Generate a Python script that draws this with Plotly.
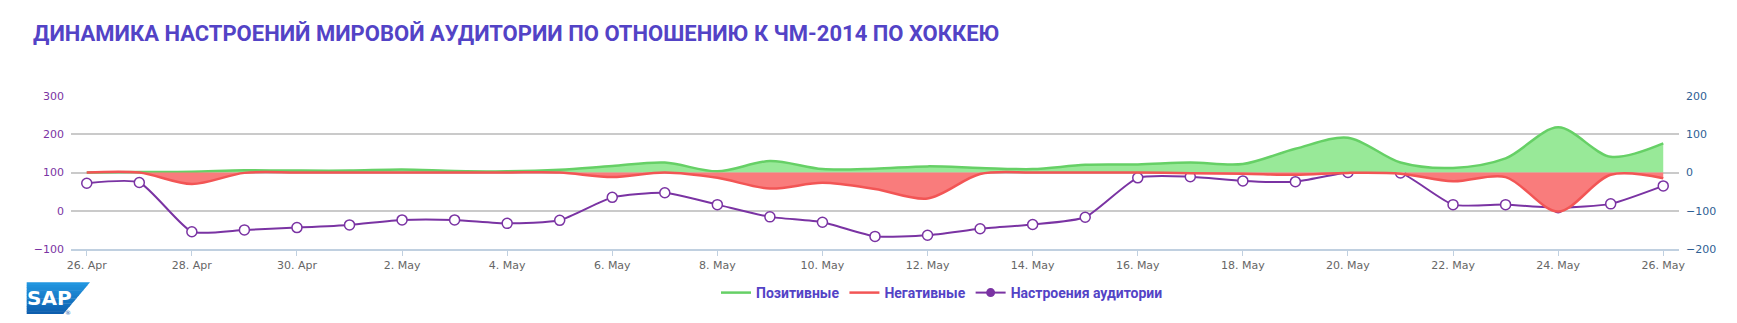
import plotly.graph_objects as go

# ---- data ---------------------------------------------------------------
dates = [
    "2014-04-26", "2014-04-27", "2014-04-28", "2014-04-29", "2014-04-30",
    "2014-05-01", "2014-05-02", "2014-05-03", "2014-05-04", "2014-05-05",
    "2014-05-06", "2014-05-07", "2014-05-08", "2014-05-09", "2014-05-10",
    "2014-05-11", "2014-05-12", "2014-05-13", "2014-05-14", "2014-05-15",
    "2014-05-16", "2014-05-17", "2014-05-18", "2014-05-19", "2014-05-20",
    "2014-05-21", "2014-05-22", "2014-05-23", "2014-05-24", "2014-05-25",
    "2014-05-26",
]

positive = [0, 1, 2, 6, 5, 5, 8, 4, 3, 7,
            17, 26, 3, 30, 9, 10, 16, 12, 9, 20,
            21, 26, 22, 62, 91, 26, 12, 37, 118, 41, 76]

negative = [0, 0, -30, -1, 0, 0, 0, 0, 0, 0,
            -12, 0, -14, -42, -27, -43, -68, -4, 0, 0,
            0, -2, -3, -6, -1, -3, -23, -12, -102, -6, -15]

mood = [72, 74, -55, -50, -44, -37, -24, -24, -33, -25,
        35, 47, 16, -16, -30, -67, -64, -47, -36, -17,
        86, 89, 78, 76, 100, 99, 16, 16, 8, 18, 65]

title_text = "ДИНАМИКА НАСТРОЕНИЙ МИРОВОЙ АУДИТОРИИ ПО ОТНОШЕНИЮ К ЧМ-2014 ПО ХОККЕЮ"
names = ["Позитивные", "Негативные", "Настроения аудитории"]

# ---- styling ------------------------------------------------------------
W, H = 1737, 323
ML, MR, MT, MB = 71, 58, 96, 74
PW, PH = W - ML - MR, H - MT - MB

HEAD_FONT = "Roboto, sans-serif"
TITLE_COLOR = "#5343C6"
PURPLE = "#7A33A3"
GREEN_LINE, GREEN_FILL = "#66D066", "#98E998"
RED_LINE, RED_FILL = "#F25555", "#F97C7C"


def px(x):
    return (x - ML) / PW


def py(y):
    return (H - MB - y) / PH


fig = go.Figure()

fig.add_trace(go.Scatter(
    x=dates, y=positive, name=names[0], yaxis="y2", showlegend=False,
    mode="lines", line=dict(color=GREEN_LINE, width=2.5, shape="spline", smoothing=0.9),
    fill="tozeroy", fillcolor=GREEN_FILL,
))
fig.add_trace(go.Scatter(
    x=dates, y=negative, name=names[1], yaxis="y2", showlegend=False,
    mode="lines", line=dict(color=RED_LINE, width=2.5, shape="spline", smoothing=0.9),
    fill="tozeroy", fillcolor=RED_FILL,
))
fig.add_trace(go.Scatter(
    x=dates, y=mood, name=names[2], yaxis="y", showlegend=False,
    mode="lines+markers", line=dict(color=PURPLE, width=2, shape="spline", smoothing=0.55),
    marker=dict(size=10, color="white", line=dict(color=PURPLE, width=1.5)),
))

# legend entries (plain line symbols, filled marker for the mood series)
fig.add_trace(go.Scatter(x=[None], y=[None], name=names[0], mode="lines",
                         line=dict(color=GREEN_LINE, width=2.5)))
fig.add_trace(go.Scatter(x=[None], y=[None], name=names[1], mode="lines",
                         line=dict(color=RED_LINE, width=2.5)))
fig.add_trace(go.Scatter(x=[None], y=[None], name=names[2], mode="lines+markers",
                         line=dict(color=PURPLE, width=2),
                         marker=dict(size=9, color=PURPLE)))

# ---- SAP logo (vertical gradient built from horizontal bands) ----------
top_y, bot_y, left_x, tr_x, br_x = 282.3, 314.0, 26.7, 90.0, 63.3
c_top, c_bot = (34, 152, 226), (12, 92, 172)
n_bands = 12
shapes = []
for i in range(n_bands):
    y0 = top_y + (bot_y - top_y) * i / n_bands
    y1 = min(top_y + (bot_y - top_y) * (i + 1) / n_bands + 0.4, bot_y)
    xr0 = tr_x - (y0 - top_y) * (tr_x - br_x) / (bot_y - top_y)
    xr1 = tr_x - (y1 - top_y) * (tr_x - br_x) / (bot_y - top_y)
    t = (i + 0.5) / n_bands
    col = "rgb(%d,%d,%d)" % tuple(round(a + (b - a) * t) for a, b in zip(c_top, c_bot))
    path = "M %f,%f L %f,%f L %f,%f L %f,%f Z" % (
        px(left_x), py(y0), px(xr0), py(y0), px(xr1), py(y1), px(left_x), py(y1))
    shapes.append(dict(type="path", xref="paper", yref="paper", path=path,
                       fillcolor=col, line=dict(width=0), layer="above"))

annotations = [
    dict(text="<b>SAP</b>", xref="paper", yref="paper", x=px(49.5), y=py(297.5),
         xanchor="center", yanchor="middle", showarrow=False,
         font=dict(family="DejaVu Sans", size=20, color="white")),
    dict(text="®", xref="paper", yref="paper", x=px(67.7), y=py(312.3),
         xanchor="center", yanchor="middle", showarrow=False,
         font=dict(family="DejaVu Sans", size=6, color="#1466B0")),
]

fig.update_layout(
    width=W, height=H,
    margin=dict(l=ML, r=MR, t=MT, b=MB),
    paper_bgcolor="white", plot_bgcolor="white",
    title=dict(text="<b>" + title_text + "</b>", xref="container", yref="container",
               x=33 / W, y=1 - 33 / H, xanchor="left", yanchor="middle",
               font=dict(family=HEAD_FONT, size=22, color=TITLE_COLOR)),
    xaxis=dict(
        type="date",
        range=["2014-04-25 16:48", "2014-05-26 07:12"],
        tick0="2014-04-26", dtick=2 * 86400000, tickformat="%-d. %b",
        showgrid=False, zeroline=False,
        showline=True, linecolor="#C0D0E0", linewidth=2,
        ticks="outside", ticklen=5, tickwidth=1, tickcolor="#C0D0E0",
        tickfont=dict(family="DejaVu Sans", size=11, color="#666666"),
    ),
    yaxis=dict(
        range=[-100, 300], dtick=100, tick0=0,
        showgrid=True, gridcolor="#CACACA", gridwidth=1.5,
        zeroline=False, showline=False,
        ticklabelstandoff=6,
        tickfont=dict(family="DejaVu Sans", size=11, color=PURPLE),
    ),
    yaxis2=dict(
        range=[-200, 200], dtick=100, tick0=0,
        overlaying="y", side="right",
        showgrid=False, zeroline=False, showline=False,
        ticklabelstandoff=6,
        tickfont=dict(family="DejaVu Sans", size=11, color="#2F5F94"),
    ),
    legend=dict(
        orientation="h", x=px(942), xanchor="center", y=py(293), yanchor="middle",
        font=dict(family=HEAD_FONT, size=14, color=TITLE_COLOR, weight="bold"),
        bgcolor="rgba(0,0,0,0)",
    ),
    shapes=shapes,
    annotations=annotations,
    showlegend=True,
)

fig.write_html("out.html")
